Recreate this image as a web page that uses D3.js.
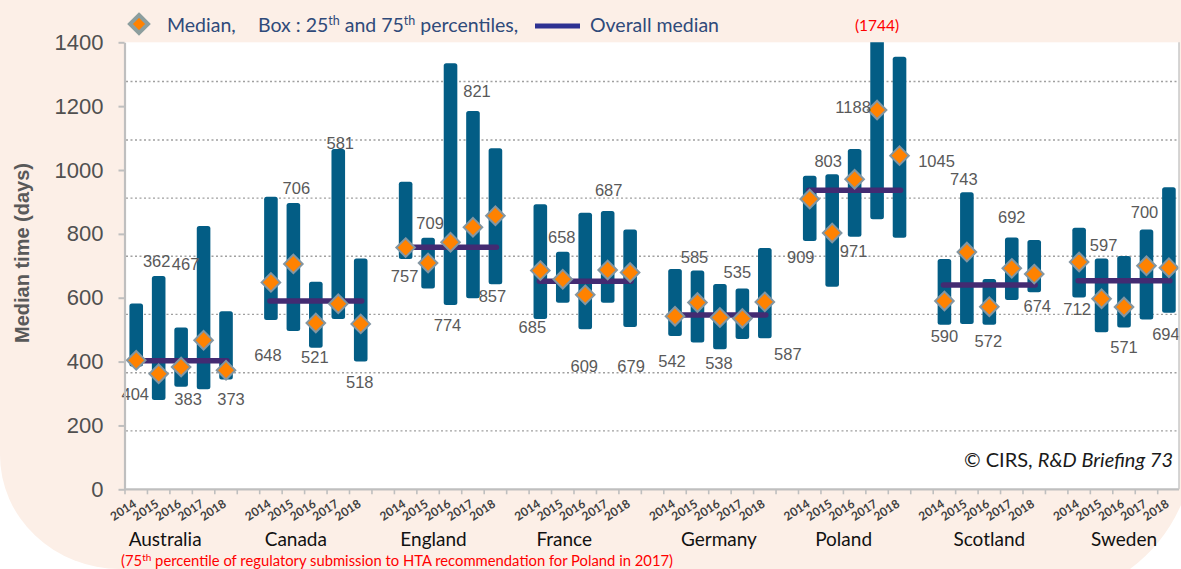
<!DOCTYPE html>
<html><head><meta charset="utf-8">
<script src="https://cdn.jsdelivr.net/npm/d3@7"></script>
<style>body{margin:0;background:#fff} svg{display:block}</style>
</head><body><svg id="c" width="1181" height="569"></svg>
<script>
// ---------------- data ----------------
const countries = ["Australia","Canada","England","France","Germany","Poland","Scotland","Sweden"];
const years = ["2014","2015","2016","2017","2018"];
const medians = [
  [404,362,383,467,373],
  [648,706,521,581,518],
  [757,709,774,821,857],
  [685,658,609,687,679],
  [542,585,538,535,587],
  [909,803,971,1188,1045],
  [590,743,572,692,674],
  [712,597,571,700,694]
];
const q1 = [
  [385,280,321,313,344],
  [530,496,443,533,400],
  [721,629,577,598,642],
  [533,584,501,584,508],
  [480,460,439,471,473],
  [778,634,791,846,788],
  [515,518,515,593,617],
  [601,492,507,532,553]
];
const q3 = [
  [582,668,507,825,558],
  [916,897,650,1066,723],
  [963,788,1334,1185,1068],
  [893,744,866,872,814],
  [690,685,643,629,756],
  [982,987,1066,1744,1355],
  [721,930,659,789,781],
  [819,723,731,814,946]
];
const overallMedian = [403,590,758,652,546,937,640,653];
const yTicks = [0,200,400,600,800,1000,1200,1400];
const gridValues = [183,365,548,730,912,1094,1277];
const offScaleNote = "(1744)";

// ---------------- layout (label placement, px) ----------------
const labelOffsets = [
  [[-1,40],[-2,-107],[7,38],[-18,-70],[5,35]],
  [[-3,79],[3,-70],[-1,40],[2,-155],[-1,64]],
  [[-1,34],[2,-34],[-3,89],[4,-130],[-3,86]],
  [[-8,62],[-1,-36],[-1,77],[1,-74],[1,99]],
  [[-3,51],[-3,-40],[-1,51],[-5,-40],[23,58]],
  [[-9,64],[-4,-66],[-1,78],[-24,3],[37,11]],
  [[0,41],[-3,-67],[-1,40],[0,-45],[3,38]],
  [[-2,53],[2,-48],[0,46],[-2,-48],[-3,72]]
];
const countryLabelNudge = [-16,-20,-17,-21,-1,-11,0,0];

// ---------------- drawing ----------------
const svg = d3.select("#c");
const W = 1181, H = 569;
const plotL = 125, plotR = 1179, plotT = 42.3, plotB = 489.3;

svg.append("rect").attr("width",W).attr("height",H).attr("fill","#ffffff");
svg.append("path")
  .attr("d",`M0,0 H${W} V505 A160,160 0 0 1 1130,${H} H120 A120,114 0 0 1 0,455 Z`)
  .attr("fill","#fcefe7");

const slots = countries.flatMap(c => [...years.map(yr => c+"|"+yr), c+"|gap"]);
const slotW = 22.45;
const x = d3.scaleBand().domain(slots).range([plotL, plotL + slots.length*slotW]).padding(0);
const y = d3.scaleLinear().domain([0,1400]).range([plotB, plotT]);
const bw = x.bandwidth();
const cx = (ci, yi) => x(countries[ci]+"|"+years[yi]) + bw/2;

// plot area
svg.append("rect").attr("x",plotL).attr("y",plotT).attr("width",plotR-plotL).attr("height",plotB-plotT).attr("fill","#ffffff");
svg.append("defs").append("clipPath").attr("id","clip")
  .append("rect").attr("x",plotL).attr("y",plotT).attr("width",plotR-plotL).attr("height",plotB-plotT);

// gridlines
svg.append("g").selectAll("line").data(gridValues).join("line")
  .attr("x1",plotL+1).attr("x2",plotR-1)
  .attr("y1",d=>y(d)).attr("y2",d=>y(d))
  .attr("stroke","#a0a0a0").attr("stroke-width",1.4).attr("stroke-dasharray","2,2.5");

// flatten boxes
const boxes = [];
countries.forEach((c,ci)=>years.forEach((yr,yi)=>{
  boxes.push({ci,yi,key:c+"|"+yr,med:medians[ci][yi],lo:q1[ci][yi],hi:q3[ci][yi],off:labelOffsets[ci][yi]});
}));

const gBars = svg.append("g").attr("clip-path","url(#clip)");
gBars.selectAll("rect").data(boxes).join("rect")
  .attr("x",d=>x(d.key)+bw/2-6.8).attr("width",13.6)
  .attr("y",d=>y(d.hi)).attr("height",d=>y(d.lo)-y(d.hi))
  .attr("rx",2.5).attr("fill","#035d85");

// overall median lines
svg.append("g").selectAll("line").data(overallMedian).join("line")
  .attr("x1",(d,i)=>cx(i,0)-1).attr("x2",(d,i)=>cx(i,4)+1)
  .attr("y1",d=>y(d)).attr("y2",d=>y(d))
  .attr("stroke","#432b72").attr("stroke-width",5.5).attr("stroke-linecap","round");

// diamonds
const r = 9.3;
const diamond = `M0,${-r} L${r},0 L0,${r} L${-r},0 Z`;
svg.append("g").selectAll("path").data(boxes).join("path")
  .attr("d",diamond)
  .attr("transform",d=>`translate(${x(d.key)+bw/2},${y(d.med)})`)
  .attr("fill","#ff8200").attr("stroke","#8396a2").attr("stroke-width",2);

// data labels
svg.append("g").selectAll("text").data(boxes).join("text")
  .attr("x",d=>x(d.key)+bw/2+d.off[0])
  .attr("y",d=>y(d.med)+d.off[1])
  .attr("text-anchor","middle")
  .attr("font-family","'Liberation Sans', Arial, sans-serif")
  .attr("font-size",16.5).attr("fill","#595959")
  .text(d=>d.med);

// axes
const yAxis = d3.axisLeft(y).tickValues(yTicks).tickFormat(d3.format("d"))
  .tickSize(6).tickSizeOuter(0).tickPadding(15);
const gy = svg.append("g").attr("transform",`translate(${plotL-0.5},0)`).call(yAxis);
gy.select(".domain").attr("stroke","#bfbfbf").attr("stroke-width",2.2);
gy.selectAll(".tick line").attr("stroke","#bfbfbf").attr("stroke-width",2);
gy.selectAll(".tick text").attr("font-family","'Liberation Sans', Arial, sans-serif")
  .attr("font-size",22).attr("fill","#505050");

// x axis line and ticks
svg.append("line").attr("x1",plotL-1).attr("x2",plotR).attr("y1",plotB).attr("y2",plotB)
  .attr("stroke","#bfbfbf").attr("stroke-width",2.2);
svg.append("line").attr("x1",plotR).attr("x2",plotR).attr("y1",plotT).attr("y2",plotB)
  .attr("stroke","#c8c8c8").attr("stroke-width",1.5);
svg.append("g").selectAll("line").data(slots.filter(s=>x(s)<plotR)).join("line")
  .attr("x1",d=>x(d)).attr("x2",d=>x(d)).attr("y1",plotB).attr("y2",plotB+5)
  .attr("stroke","#bfbfbf").attr("stroke-width",1.6);

// year labels
svg.append("g").selectAll("text").data(boxes).join("text")
  .attr("transform",d=>`translate(${x(d.key)+bw/2+1},506) rotate(-33)`)
  .attr("text-anchor","end")
  .attr("font-family","Lato, 'Open Sans', sans-serif").attr("font-weight","bold")
  .attr("font-size",12).attr("fill","#404040")
  .text(d=>years[d.yi]);

// country labels
svg.append("g").selectAll("text").data(countries).join("text")
  .attr("x",(d,i)=>cx(i,2)+countryLabelNudge[i]).attr("y",546)
  .attr("text-anchor","middle")
  .attr("font-family","Lato, 'Open Sans', sans-serif")
  .attr("font-size",19).attr("fill","#111")
  .text(d=>d);

// y title
svg.append("text").attr("transform","translate(29,253) rotate(-90)")
  .attr("text-anchor","middle")
  .attr("font-family","'Liberation Sans', Arial, sans-serif").attr("font-weight","bold")
  .attr("font-size",20).attr("fill","#595959")
  .text("Median time (days)");

// legend
const leg = svg.append("g").attr("font-family","Lato, 'Open Sans', sans-serif").attr("font-size",19.5).attr("fill","#2f4a7a");
leg.append("path").attr("d","M0,-9 L9,0 L0,9 L-9,0 Z").attr("transform","translate(139,24)")
  .attr("fill","#ff8200").attr("stroke","#8c9e9e").attr("stroke-width",4);
leg.append("text").attr("x",167).attr("y",32).text("Median,");
const bt = leg.append("text").attr("x",258).attr("y",32);
bt.append("tspan").text("Box : 25");
bt.append("tspan").attr("font-size",12.5).attr("dy",-7).text("th");
bt.append("tspan").attr("dy",7).text(" and 75");
bt.append("tspan").attr("font-size",12.5).attr("dy",-7).text("th");
bt.append("tspan").attr("dy",7).text(" percentiles,");
leg.append("line").attr("x1",535).attr("x2",580).attr("y1",26).attr("y2",26)
  .attr("stroke","#2e3192").attr("stroke-width",5);
leg.append("text").attr("x",590).attr("y",32).text("Overall median");

// off-scale note
svg.append("text").attr("x",cx(5,3)).attr("y",31).attr("text-anchor","middle")
  .attr("font-family","Lato, 'Open Sans', sans-serif").attr("font-size",15.5).attr("fill","#ff0000")
  .text(offScaleNote);

// copyright
const cp = svg.append("text").attr("x",1173).attr("y",467).attr("text-anchor","end")
  .attr("font-family","Lato, 'Open Sans', sans-serif").attr("font-size",20).attr("fill","#1a1a1a");
cp.append("tspan").text("© CIRS, ");
cp.append("tspan").attr("font-style","italic").text("R&D Briefing 73");

// footnote
const fn = svg.append("text").attr("x",121).attr("y",566)
  .attr("font-family","Lato, 'Open Sans', sans-serif").attr("font-size",14.8).attr("fill","#ff0000");
fn.append("tspan").text("(75");
fn.append("tspan").attr("font-size",10).attr("dy",-5).text("th");
fn.append("tspan").attr("dy",5).text(" percentile of regulatory submission to HTA recommendation for Poland in 2017)");
</script></body></html>
